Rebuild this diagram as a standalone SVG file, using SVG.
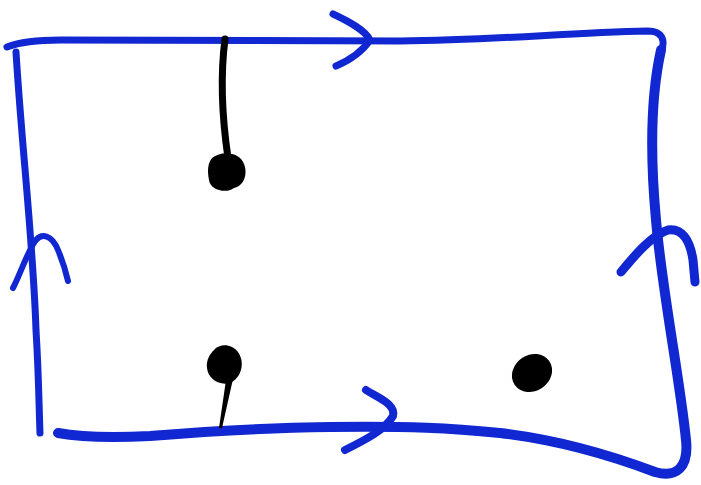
<svg xmlns="http://www.w3.org/2000/svg" width="701" height="485" viewBox="0 0 701 485">
<style>
.b{fill:none;stroke:#1127d1;stroke-linecap:round;stroke-linejoin:round}
.k{fill:#000}
</style>
<rect width="701" height="485" fill="#fff"/>
<g id="loop">
<path class="b" stroke-width="7" d="M7,47 C20,42 35,40 60,40 L400,41 C500,40 560,33 648,31 C662,31 666,40 661,52"/>
<path class="b" stroke-width="10" d="M661,50 C651,95 650,155 656,220 C662,290 680,380 686,440 C689,468 676,478 655,472 C610,455 560,440 500,433 C450,428 410,426 330,427 C260,428 200,432 150,436 C110,438 80,437 58,433"/>
<path class="b" stroke-width="7" d="M16,52 C22,150 33,240 36,330 C39,380 39,410 40,433"/>
</g>
<g id="arrows">
<path class="b" stroke-width="7" d="M333,14 C350,22 365,30 370,40 C362,52 350,60 336,66"/>
<path class="b" stroke-width="8" d="M366,390 C378,398 396,404 393,416 C385,430 365,440 345,450"/>
<path class="b" stroke-width="6" d="M13,288 C20,275 28,250 36,240 C42,233 52,235 58,250 C63,262 66,272 68,281"/>
<path class="b" stroke-width="9" d="M621,272 C635,255 652,235 668,230 C682,228 690,240 693,260 L695,282"/>
</g>
<g id="dots">
<path d="M225,39 C221,70 221,110 228,158" fill="none" stroke="#000" stroke-width="7" stroke-linecap="round"/>
<path class="k" d="M212,158 C222,150 240,152 244,164 C248,174 244,186 234,188 C226,194 210,190 209,180 C207,170 208,163 212,158 Z"/>
<path class="k" d="M214,350 C220,343 232,344 238,352 C245,362 242,376 232,382 C222,387 208,380 207,368 C206,360 210,354 214,350 Z"/>
<path class="k" d="M226,380 L233,379 L222,428 L219,428 Z"/>
<ellipse class="k" cx="532" cy="373" rx="21" ry="18" transform="rotate(-35 532 373)"/>
</g>
</svg>
